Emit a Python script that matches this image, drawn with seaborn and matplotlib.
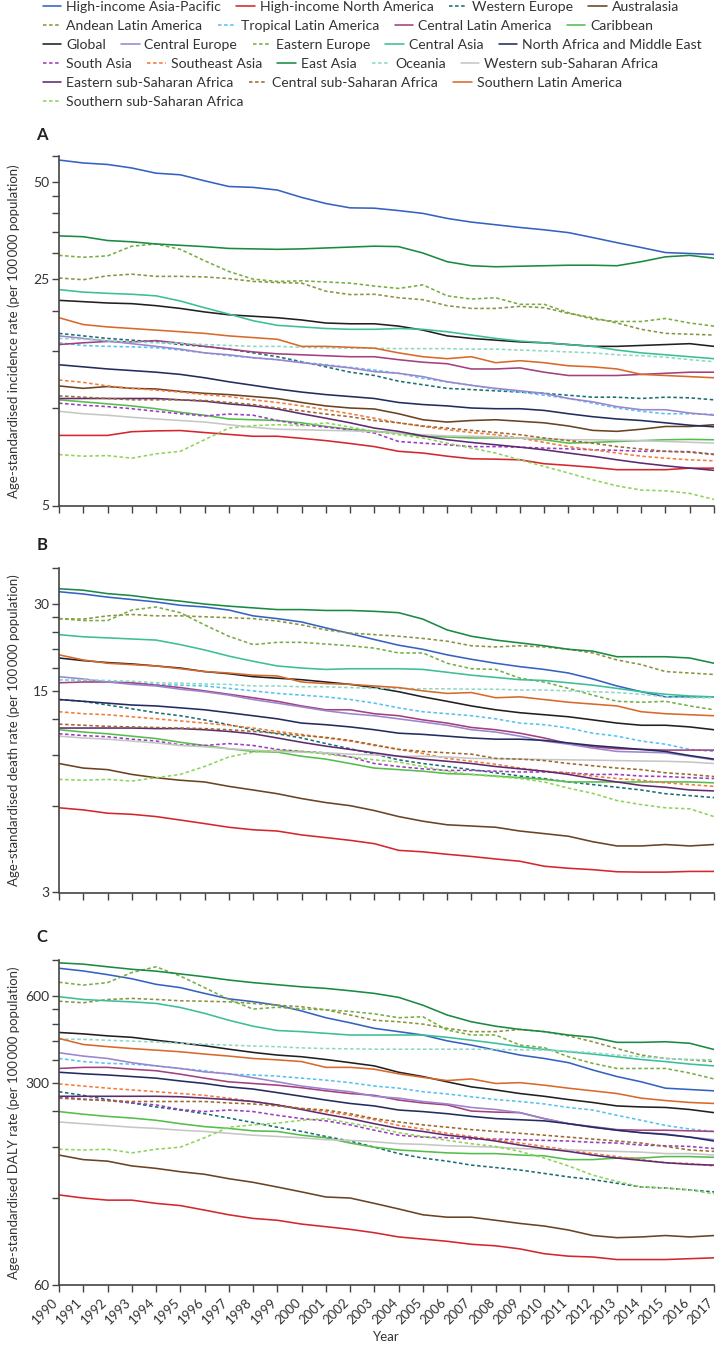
import matplotlib
matplotlib.use("Agg")
import matplotlib.pyplot as plt
import pandas as pd
import seaborn as sns
from matplotlib.ticker import FixedLocator, FixedFormatter, NullLocator
from matplotlib.lines import Line2D

years = list(range(1990, 2018))

regions = [
    "High-income Asia-Pacific", "High-income North America", "Western Europe", "Australasia",
    "Andean Latin America", "Tropical Latin America", "Central Latin America", "Caribbean",
    "Global", "Central Europe", "Eastern Europe", "Central Asia", "North Africa and Middle East",
    "South Asia", "Southeast Asia", "East Asia", "Oceania", "Western sub-Saharan Africa",
    "Eastern sub-Saharan Africa", "Central sub-Saharan Africa", "Southern Latin America",
    "Southern sub-Saharan Africa",
]

legend_rows = [regions[0:4], regions[4:8], regions[8:13], regions[13:18], regions[18:21], regions[21:22]]

colors = {
    "High-income Asia-Pacific": "#3562c1", "High-income North America": "#d4272d",
    "Western Europe": "#1b6e72", "Australasia": "#6b4322",
    "Andean Latin America": "#8a9440", "Tropical Latin America": "#55c3f0",
    "Central Latin America": "#a3407e", "Caribbean": "#55bd4b",
    "Global": "#231f20", "Central Europe": "#9c84cf", "Eastern Europe": "#76ae42",
    "Central Asia": "#3bbf96", "North Africa and Middle East": "#222c5e",
    "South Asia": "#9b3cc0", "Southeast Asia": "#f47a3a", "East Asia": "#1a8a43",
    "Oceania": "#8dd9c6", "Western sub-Saharan Africa": "#c6c6c6",
    "Eastern sub-Saharan Africa": "#5e2a70", "Central sub-Saharan Africa": "#9a6b30",
    "Southern Latin America": "#d9692b", "Southern sub-Saharan Africa": "#8fd45a",
}

dashed_regions = ["Western Europe", "Andean Latin America", "Tropical Latin America",
                  "Eastern Europe", "South Asia", "Southeast Asia", "Oceania",
                  "Central sub-Saharan Africa", "Southern sub-Saharan Africa"]

incidence = {
    "High-income Asia-Pacific": [58.3, 57.1, 56.5, 55.1, 53.1, 52.5, 50.3, 48.3, 48.0, 47.1, 44.7, 42.8, 41.5, 41.4, 40.7, 39.9, 38.5, 37.5, 36.8, 36.1, 35.5, 34.8, 33.6, 32.4, 31.3, 30.2, 30.0, 29.8],
    "High-income North America": [8.23, 8.23, 8.23, 8.45, 8.5, 8.52, 8.4, 8.29, 8.18, 8.18, 8.06, 7.93, 7.77, 7.6, 7.35, 7.26, 7.1, 6.97, 6.95, 6.92, 6.73, 6.65, 6.56, 6.45, 6.45, 6.45, 6.52, 6.52],
    "Western Europe": [17.0, 16.7, 16.4, 16.2, 16.0, 15.7, 15.5, 15.2, 14.8, 14.4, 13.9, 13.4, 12.9, 12.6, 12.1, 11.8, 11.5, 11.4, 11.3, 11.2, 11.1, 10.95, 10.8, 10.8, 10.7, 10.8, 10.75, 10.6],
    "Australasia": [11.7, 11.5, 11.65, 11.5, 11.45, 11.25, 11.1, 11.0, 10.85, 10.7, 10.4, 10.15, 10.0, 9.93, 9.6, 9.2, 9.05, 9.15, 9.2, 9.1, 9.0, 8.8, 8.53, 8.47, 8.6, 8.77, 8.77, 8.88],
    "Andean Latin America": [25.2, 24.9, 25.6, 25.9, 25.5, 25.5, 25.4, 25.1, 24.6, 24.4, 24.3, 22.95, 22.4, 22.45, 21.9, 21.6, 20.7, 20.3, 20.3, 20.6, 20.4, 19.6, 19.0, 18.3, 17.5, 17.0, 16.9, 16.8],
    "Tropical Latin America": [15.9, 15.6, 15.5, 15.45, 15.35, 15.1, 14.8, 14.5, 14.3, 14.1, 13.85, 13.6, 13.35, 13.1, 12.8, 12.35, 12.05, 11.75, 11.45, 11.2, 10.95, 10.7, 10.35, 10.0, 9.77, 9.6, 9.6, 9.55],
    "Central Latin America": [15.7, 15.9, 16.05, 16.0, 16.15, 15.85, 15.5, 15.2, 14.9, 14.7, 14.6, 14.5, 14.4, 14.4, 14.1, 13.85, 13.7, 13.2, 13.2, 13.3, 12.9, 12.6, 12.6, 12.6, 12.7, 12.8, 12.9, 12.9],
    "Caribbean": [10.6, 10.45, 10.3, 10.15, 9.95, 9.7, 9.5, 9.25, 9.2, 9.15, 9.0, 8.77, 8.6, 8.47, 8.37, 8.18, 8.14, 8.08, 8.08, 8.08, 7.98, 7.79, 7.83, 7.88, 7.93, 7.98, 8.0, 7.98],
    "Global": [21.5, 21.3, 21.1, 21.0, 20.7, 20.3, 19.8, 19.4, 19.2, 19.0, 18.7, 18.3, 18.2, 18.2, 17.9, 17.4, 16.7, 16.4, 16.2, 16.0, 15.9, 15.7, 15.5, 15.5, 15.6, 15.7, 15.8, 15.5],
    "Central Europe": [16.7, 16.4, 16.1, 15.8, 15.5, 15.2, 14.8, 14.6, 14.3, 14.1, 13.8, 13.55, 13.3, 12.95, 12.8, 12.5, 12.05, 11.75, 11.5, 11.3, 11.1, 10.7, 10.45, 10.1, 9.88, 9.88, 9.65, 9.5],
    "Eastern Europe": [29.6, 29.2, 29.5, 31.6, 32.1, 30.9, 28.5, 26.4, 25.0, 24.6, 24.7, 24.5, 24.3, 23.8, 23.4, 24.0, 22.2, 21.7, 21.9, 20.9, 20.9, 19.7, 18.8, 18.5, 18.5, 18.9, 18.3, 17.9],
    "Central Asia": [23.2, 22.8, 22.6, 22.45, 22.2, 21.4, 20.4, 19.5, 18.6, 18.0, 17.8, 17.6, 17.5, 17.5, 17.6, 17.5, 17.2, 16.8, 16.4, 16.1, 15.9, 15.7, 15.5, 15.1, 14.8, 14.6, 14.4, 14.2],
    "North Africa and Middle East": [13.6, 13.4, 13.2, 13.05, 12.9, 12.7, 12.4, 12.05, 11.75, 11.45, 11.2, 11.0, 10.85, 10.7, 10.4, 10.25, 10.15, 10.0, 9.95, 9.95, 9.83, 9.6, 9.4, 9.25, 9.15, 9.0, 8.85, 8.75],
    "South Asia": [10.35, 10.2, 10.1, 9.95, 9.77, 9.6, 9.45, 9.58, 9.5, 9.15, 8.88, 8.73, 8.57, 8.37, 7.88, 7.79, 7.7, 7.6, 7.6, 7.57, 7.52, 7.48, 7.43, 7.4, 7.35, 7.35, 7.33, 7.2],
    "Southeast Asia": [12.2, 12.0, 11.7, 11.5, 11.35, 11.2, 11.0, 10.85, 10.6, 10.4, 10.15, 9.88, 9.6, 9.3, 9.0, 8.77, 8.57, 8.4, 8.27, 8.08, 7.83, 7.6, 7.43, 7.26, 7.1, 7.0, 6.92, 6.87],
    "East Asia": [34.0, 33.8, 32.9, 32.6, 32.1, 31.8, 31.5, 31.1, 31.0, 30.9, 31.0, 31.2, 31.4, 31.6, 31.5, 30.1, 28.3, 27.5, 27.3, 27.4, 27.5, 27.6, 27.6, 27.5, 28.3, 29.3, 29.6, 29.0],
    "Oceania": [16.4, 16.3, 16.15, 16.0, 15.9, 15.85, 15.7, 15.6, 15.5, 15.5, 15.4, 15.35, 15.3, 15.3, 15.25, 15.25, 15.25, 15.2, 15.2, 15.1, 15.0, 14.9, 14.8, 14.6, 14.5, 14.35, 14.1, 13.9],
    "Western sub-Saharan Africa": [9.77, 9.6, 9.5, 9.36, 9.25, 9.15, 9.05, 8.88, 8.72, 8.6, 8.57, 8.53, 8.5, 8.45, 8.37, 8.27, 8.2, 8.18, 8.14, 8.08, 8.04, 7.98, 7.98, 7.95, 7.93, 7.88, 7.84, 7.79],
    "Eastern sub-Saharan Africa": [10.7, 10.7, 10.7, 10.7, 10.7, 10.6, 10.5, 10.3, 10.15, 9.93, 9.6, 9.3, 9.0, 8.67, 8.47, 8.2, 7.98, 7.83, 7.7, 7.57, 7.43, 7.26, 7.1, 6.92, 6.76, 6.63, 6.52, 6.42],
    "Central sub-Saharan Africa": [10.9, 10.8, 10.7, 10.6, 10.6, 10.6, 10.55, 10.4, 10.25, 10.0, 9.8, 9.58, 9.4, 9.15, 9.0, 8.8, 8.67, 8.53, 8.4, 8.27, 8.08, 7.93, 7.79, 7.6, 7.47, 7.35, 7.3, 7.18],
    "Southern Latin America": [19.0, 18.1, 17.8, 17.6, 17.4, 17.2, 17.0, 16.7, 16.5, 16.3, 15.5, 15.5, 15.4, 15.3, 14.8, 14.4, 14.2, 14.4, 13.8, 14.0, 13.8, 13.5, 13.4, 13.2, 12.7, 12.6, 12.5, 12.4],
    "Southern sub-Saharan Africa": [7.18, 7.1, 7.13, 7.0, 7.22, 7.35, 7.98, 8.67, 8.82, 8.88, 8.82, 9.0, 8.73, 8.47, 8.27, 8.08, 7.79, 7.52, 7.26, 6.92, 6.6, 6.3, 6.0, 5.75, 5.58, 5.55, 5.45, 5.22],
}

death = {
    "High-income Asia-Pacific": [33.1, 32.5, 31.7, 31.1, 30.5, 29.7, 29.3, 28.6, 27.3, 26.7, 26.0, 24.8, 23.7, 22.6, 21.6, 20.9, 20.0, 19.3, 18.7, 18.2, 17.8, 17.3, 16.5, 15.6, 14.9, 14.3, 14.3, 14.3],
    "High-income North America": [5.9, 5.8, 5.65, 5.6, 5.5, 5.35, 5.2, 5.05, 4.95, 4.9, 4.75, 4.65, 4.55, 4.43, 4.2, 4.15, 4.07, 4.0, 3.92, 3.85, 3.7, 3.64, 3.6, 3.54, 3.53, 3.53, 3.55, 3.55],
    "Western Europe": [14.0, 13.8, 13.4, 13.0, 12.6, 12.3, 11.9, 11.45, 11.0, 10.65, 10.3, 9.85, 9.45, 9.05, 8.65, 8.4, 8.2, 8.0, 7.8, 7.6, 7.45, 7.25, 7.1, 6.95, 6.8, 6.6, 6.5, 6.4],
    "Australasia": [8.4, 8.1, 8.0, 7.7, 7.5, 7.35, 7.25, 7.0, 6.8, 6.6, 6.35, 6.15, 6.0, 5.77, 5.5, 5.3, 5.15, 5.1, 5.05, 4.9, 4.8, 4.7, 4.5, 4.35, 4.35, 4.4, 4.35, 4.4],
    "Andean Latin America": [26.7, 26.6, 27.3, 27.6, 27.3, 27.3, 27.1, 26.9, 26.7, 26.2, 25.4, 24.4, 23.8, 23.5, 23.2, 22.8, 22.3, 21.5, 21.3, 21.5, 21.3, 20.9, 20.3, 19.2, 18.5, 17.5, 17.3, 17.1],
    "Tropical Latin America": [16.4, 16.3, 16.1, 16.0, 15.8, 15.7, 15.6, 15.3, 15.0, 14.7, 14.5, 14.3, 14.0, 13.6, 13.1, 12.7, 12.5, 12.3, 12.0, 11.6, 11.45, 11.15, 10.7, 10.45, 10.05, 9.8, 9.4, 9.25],
    "Central Latin America": [16.0, 16.1, 16.1, 16.0, 15.7, 15.4, 15.0, 14.6, 14.2, 13.8, 13.3, 12.9, 12.9, 12.5, 12.3, 11.9, 11.6, 11.2, 11.0, 10.7, 10.3, 9.85, 9.6, 9.45, 9.4, 9.35, 9.35, 9.35],
    "Caribbean": [11.0, 10.8, 10.65, 10.45, 10.25, 9.95, 9.7, 9.45, 9.25, 9.2, 8.9, 8.7, 8.4, 8.1, 8.0, 7.9, 7.75, 7.7, 7.6, 7.5, 7.4, 7.25, 7.25, 7.25, 7.25, 7.25, 7.25, 7.2],
    "Global": [19.5, 19.1, 18.8, 18.6, 18.3, 18.0, 17.5, 17.2, 16.8, 16.6, 16.4, 16.1, 15.8, 15.4, 14.9, 14.3, 13.8, 13.3, 12.9, 12.6, 12.4, 12.2, 11.9, 11.6, 11.4, 11.4, 11.25, 11.0],
    "Central Europe": [16.8, 16.5, 16.1, 15.8, 15.6, 15.2, 14.9, 14.5, 14.0, 13.6, 13.2, 12.8, 12.5, 12.3, 12.0, 11.7, 11.4, 11.0, 10.8, 10.45, 10.05, 9.8, 9.5, 9.25, 9.2, 9.15, 8.9, 8.65],
    "Eastern Europe": [26.7, 26.3, 26.3, 28.6, 29.3, 28.0, 25.4, 23.2, 21.7, 22.1, 22.1, 21.8, 21.5, 21.1, 20.3, 20.3, 18.7, 17.9, 17.8, 16.6, 16.1, 15.3, 14.5, 13.8, 13.7, 13.8, 13.3, 12.9],
    "Central Asia": [23.5, 23.1, 22.9, 22.7, 22.5, 21.7, 20.8, 19.8, 19.0, 18.3, 18.0, 17.8, 17.9, 17.9, 17.9, 17.8, 17.4, 17.0, 16.7, 16.4, 16.3, 16.0, 15.7, 15.3, 14.9, 14.6, 14.4, 14.3],
    "North Africa and Middle East": [14.0, 13.8, 13.6, 13.4, 13.3, 13.1, 12.9, 12.6, 12.3, 12.0, 11.6, 11.45, 11.25, 11.0, 10.7, 10.6, 10.45, 10.3, 10.2, 10.2, 10.1, 9.9, 9.7, 9.55, 9.4, 9.25, 8.95, 8.7],
    "South Asia": [10.65, 10.5, 10.4, 10.2, 10.05, 9.75, 9.7, 9.85, 9.7, 9.4, 9.25, 9.15, 8.85, 8.4, 8.2, 8.05, 7.95, 7.95, 7.9, 7.85, 7.85, 7.8, 7.7, 7.7, 7.6, 7.57, 7.5, 7.45],
    "Southeast Asia": [12.7, 12.5, 12.4, 12.2, 12.0, 11.8, 11.6, 11.4, 11.15, 10.85, 10.6, 10.3, 10.05, 9.7, 9.4, 9.1, 8.75, 8.55, 8.35, 8.1, 7.9, 7.8, 7.6, 7.45, 7.35, 7.2, 7.1, 7.0],
    "East Asia": [33.9, 33.5, 32.6, 32.1, 31.3, 30.7, 30.0, 29.5, 29.1, 28.7, 28.7, 28.5, 28.5, 28.3, 28.0, 26.6, 24.4, 23.2, 22.5, 22.0, 21.5, 20.9, 20.6, 19.7, 19.7, 19.7, 19.5, 18.7],
    "Oceania": [16.4, 16.4, 16.3, 16.2, 16.0, 15.95, 15.85, 15.8, 15.6, 15.6, 15.5, 15.5, 15.4, 15.3, 15.3, 15.25, 15.25, 15.2, 15.2, 15.1, 15.1, 15.0, 14.9, 14.8, 14.6, 14.3, 14.2, 14.2],
    "Western sub-Saharan Africa": [10.45, 10.3, 10.2, 10.05, 9.9, 9.7, 9.6, 9.45, 9.35, 9.25, 9.2, 9.15, 9.05, 9.0, 8.9, 8.9, 8.85, 8.75, 8.73, 8.7, 8.67, 8.65, 8.63, 8.6, 8.57, 8.55, 8.5, 8.4],
    "Eastern sub-Saharan Africa": [11.15, 11.15, 11.15, 11.15, 11.1, 11.1, 11.0, 10.85, 10.65, 10.3, 9.95, 9.65, 9.4, 9.15, 8.9, 8.7, 8.55, 8.4, 8.2, 8.05, 7.9, 7.7, 7.45, 7.25, 7.05, 6.95, 6.8, 6.75],
    "Central sub-Saharan Africa": [11.5, 11.4, 11.3, 11.25, 11.2, 11.15, 11.1, 11.0, 10.85, 10.7, 10.5, 10.35, 10.1, 9.75, 9.4, 9.25, 9.15, 9.05, 8.75, 8.7, 8.6, 8.4, 8.25, 8.1, 8.0, 7.8, 7.7, 7.57],
    "Southern Latin America": [20.0, 19.2, 18.7, 18.5, 18.3, 17.9, 17.5, 17.3, 17.0, 16.9, 16.1, 15.9, 15.8, 15.6, 15.4, 15.0, 14.7, 14.8, 14.2, 14.3, 14.0, 13.7, 13.5, 13.3, 12.7, 12.5, 12.4, 12.3],
    "Southern sub-Saharan Africa": [7.4, 7.35, 7.4, 7.3, 7.5, 7.7, 8.2, 8.85, 9.2, 9.35, 9.25, 9.05, 8.85, 8.65, 8.5, 8.2, 7.9, 7.7, 7.57, 7.45, 7.25, 6.9, 6.62, 6.25, 6.05, 5.9, 5.85, 5.5],
}

daly = {
    "High-income Asia-Pacific": [749, 733, 712, 689, 659, 642, 613, 587, 574, 558, 533, 505, 485, 464, 452, 440, 420, 406, 390, 375, 365, 353, 333, 316, 303, 288, 285, 282],
    "High-income North America": [123, 120, 118, 118, 115, 113, 109, 105, 102, 100.5, 97.5, 95.5, 93.5, 91, 88, 86.5, 85, 83, 82, 80, 77, 75.5, 75, 73.5, 73.5, 73.5, 74, 74.5],
    "Western Europe": [280, 272, 263, 256, 248, 242, 235, 227, 219, 211, 204, 196, 189, 180, 171, 165, 161, 156, 153, 150, 146, 142, 139, 135, 131, 130, 128, 126],
    "Australasia": [169, 163, 161, 155, 152, 148, 145, 140, 136, 131, 126, 121, 120, 115, 110, 105, 103, 103, 100.5, 98, 96, 93, 89, 87.5, 88, 89, 88, 89],
    "Andean Latin America": [576, 569, 584, 589, 584, 578, 576, 573, 566, 558, 551, 538, 516, 495, 489, 480, 464, 452, 452, 460, 452, 437, 417, 395, 375, 365, 361, 356],
    "Tropical Latin America": [365, 356, 351, 349, 344, 337, 331, 322, 320, 317, 312, 307, 301, 293, 288, 280, 275, 269, 263, 259, 254, 247, 242, 232, 223, 214, 208, 204],
    "Central Latin America": [337, 340, 340, 335, 331, 322, 312, 303, 299, 295, 289, 282, 276, 272, 262, 256, 252, 240, 238, 237, 226, 217, 212, 207, 206, 206, 205, 204],
    "Caribbean": [239, 234, 230, 227, 223, 217, 212, 209, 205, 204, 198, 194, 186, 180, 176, 174, 172, 171, 171, 169, 168, 163, 163, 165, 165, 167, 167, 166],
    "Global": [449, 444, 437, 432, 422, 413, 404, 393, 383, 375, 370, 362, 353, 344, 327, 316, 303, 291, 284, 276, 270, 263, 257, 250, 248, 247, 243, 237],
    "Central Europe": [382, 372, 365, 353, 344, 337, 328, 323, 313, 303, 293, 286, 280, 270, 266, 259, 254, 247, 243, 237, 226, 217, 211, 206, 202, 200, 195, 191],
    "Eastern Europe": [670, 655, 668, 724, 758, 704, 642, 584, 541, 549, 541, 538, 531, 521, 505, 509, 458, 440, 440, 406, 398, 370, 351, 337, 337, 337, 325, 310],
    "Central Asia": [597, 584, 578, 573, 566, 548, 523, 495, 472, 456, 452, 446, 440, 440, 440, 440, 432, 422, 412, 401, 392, 385, 378, 370, 362, 356, 349, 344],
    "North Africa and Middle East": [327, 323, 320, 316, 312, 305, 299, 291, 286, 278, 270, 262, 255, 250, 242, 239, 235, 230, 226, 224, 222, 217, 211, 206, 202, 199, 195, 189],
    "South Asia": [269, 264, 261, 256, 252, 243, 239, 242, 239, 232, 226, 222, 215, 206, 198, 195, 194, 192, 192, 191, 190, 189, 187, 186, 183, 182, 181, 178],
    "Southeast Asia": [298, 293, 288, 284, 280, 276, 272, 266, 259, 252, 245, 239, 232, 224, 214, 208, 201, 196, 191, 186, 181, 176, 171, 167, 163, 159, 158, 155],
    "East Asia": [782, 774, 758, 743, 732, 716, 700, 682, 668, 657, 646, 638, 626, 613, 594, 558, 516, 489, 472, 460, 452, 440, 432, 415, 415, 417, 412, 392],
    "Oceania": [426, 425, 422, 419, 416, 412, 409, 406, 403, 401, 397, 395, 394, 393, 393, 393, 393, 393, 392, 391, 390, 387, 382, 375, 370, 365, 362, 361],
    "Western sub-Saharan Africa": [220, 217, 214, 211, 209, 206, 204, 201, 198, 196, 194, 191, 190, 188, 185, 184, 182, 181, 180, 178, 177, 176, 175, 174, 173, 171, 171, 169],
    "Eastern sub-Saharan Africa": [270, 270, 270, 270, 270, 269, 266, 263, 259, 252, 243, 234, 226, 217, 209, 204, 198, 194, 189, 183, 178, 174, 169, 165, 162, 159, 157, 156],
    "Central sub-Saharan Africa": [266, 263, 261, 259, 259, 259, 259, 256, 254, 250, 245, 242, 235, 226, 220, 215, 211, 207, 204, 201, 198, 195, 192, 189, 186, 181, 176, 174],
    "Southern Latin America": [428, 408, 401, 395, 390, 385, 378, 372, 365, 361, 356, 340, 340, 335, 323, 314, 306, 310, 299, 301, 295, 288, 282, 276, 266, 261, 257, 255],
    "Southern sub-Saharan Africa": [177, 176, 177, 172, 177, 180, 194, 211, 215, 218, 223, 226, 218, 211, 202, 196, 190, 185, 181, 174, 165, 155, 144, 137, 131, 130, 128, 124],
}

panel_letters = ["A", "B", "C"]
ylabels = [
    "Age-standardised incidence rate (per 100\u2009000 population)",
    "Age-standardised death rate (per 100\u2009000 population)",
    "Age-standardised DALY rate (per 100\u2009000 population)",
]
ytick_values = [
    [5, 10, 15, 20, 25, 30, 35, 40, 45, 50, 60],
    [3, 6, 9, 12, 15, 18, 21, 24, 27, 30, 40],
    [60, 120, 180, 240, 300, 360, 420, 480, 540, 600, 800],
]
ytick_labelled = [[5, 25, 50], [3, 15, 30], [60, 300, 600]]

# ---------------------------------------------------------------- style
sns.set_theme(style="ticks")
plt.rcParams["font.family"] = ["Lato", "DejaVu Sans"]
plt.rcParams["axes.edgecolor"] = "#444444"
plt.rcParams["xtick.color"] = "#444444"
plt.rcParams["ytick.color"] = "#444444"
plt.rcParams["text.color"] = "#333333"
plt.rcParams["axes.labelcolor"] = "#333333"

W, H = 716, 1345
fig = plt.figure(figsize=(W / 100, H / 100), dpi=100)

left_px, right_px = 59, 714
panel_px = [(156, 505.5), (568, 892.5), (960, 1285)]
letter_y = [135, 545, 937]

dash_map = {r: ((2.2, 1.6) if r in dashed_regions else "") for r in regions}
LW = 1.15


def make_df(d):
    rows = []
    for r in regions:
        for y, v in zip(years, d[r]):
            rows.append((y, r, v))
    return pd.DataFrame(rows, columns=["year", "region", "value"])


datasets = [incidence, death, daly]
axes = []
for i, d in enumerate(datasets):
    top, bot = panel_px[i]
    ax = fig.add_axes([left_px / W, 1 - bot / H, (right_px - left_px) / W, (bot - top) / H])
    axes.append(ax)
    df = make_df(d)
    sns.lineplot(data=df, x="year", y="value", hue="region", style="region",
                 hue_order=regions, style_order=regions, palette=colors,
                 dashes=dash_map, linewidth=LW, legend=False, ax=ax,
                 estimator=None, errorbar=None, sort=True)
    ax.set_yscale("log")
    ticks = ytick_values[i]
    ax.set_ylim(ticks[0], ticks[-1])
    ax.set_xlim(1990, 2017)
    ax.yaxis.set_major_locator(FixedLocator(ticks))
    ax.yaxis.set_major_formatter(FixedFormatter(
        [str(t) if t in ytick_labelled[i] else "" for t in ticks]))
    ax.yaxis.set_minor_locator(NullLocator())
    ax.xaxis.set_major_locator(FixedLocator(years))
    ax.xaxis.set_minor_locator(NullLocator())
    ax.tick_params(axis="both", direction="out", length=5, width=1.0,
                   labelsize=10, pad=2, labelcolor="#333333")
    if i == 2:
        ax.set_xticklabels([str(y) for y in years], rotation=45, ha="right",
                           va="baseline", rotation_mode="anchor")
        ax.tick_params(axis="x", labelsize=9.5, pad=8)
        ax.set_xlabel("Year", fontsize=9.5)
        ax.xaxis.set_label_coords(0.5, -(1337 - bot) / (bot - top))
        ax.xaxis.label.set_va("center")
    else:
        ax.set_xticklabels([])
        ax.set_xlabel("")
    ax.set_ylabel(ylabels[i], fontsize=9.5)
    ax.yaxis.set_label_coords(-(left_px - 14) / (right_px - left_px), 0.5)
    ax.yaxis.label.set_va("center")
    sns.despine(ax=ax)
    for s in ("left", "bottom"):
        ax.spines[s].set_linewidth(1.2)
        ax.spines[s].set_color("#444444")
    fig.text(42 / W, 1 - letter_y[i] / H, panel_letters[i], fontsize=12,
             fontweight="bold", va="center", ha="center", color="#222222")

# ---------------------------------------------------------------- legend
row_y = [7, 26, 45, 64, 83, 102]
for ry, row in zip(row_y, legend_rows):
    handles = [Line2D([], [], color=colors[r], lw=LW,
                      linestyle=(0, (2.2, 1.6)) if r in dashed_regions else "-")
               for r in row]
    fig.legend(handles, row, loc="center left",
               bbox_to_anchor=(43 / W, 1 - ry / H), bbox_transform=fig.transFigure,
               ncol=len(row), frameon=False, fontsize=10.1, handlelength=1.3,
               handletextpad=0.35, columnspacing=1.1, borderpad=0, borderaxespad=0)

fig.savefig("out.png", dpi=100)
